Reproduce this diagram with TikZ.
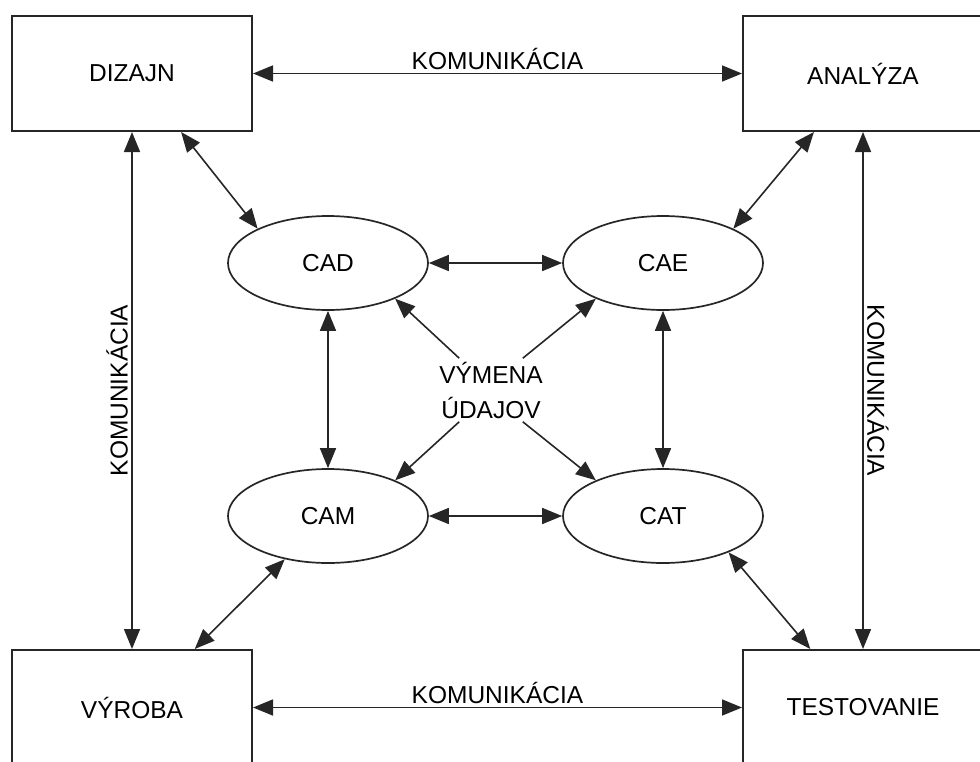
\documentclass[tikz,border=0pt]{standalone}
\usepackage{fontspec}
\setmainfont{Liberation Sans}
\usepackage{tikz}
\usetikzlibrary{shapes.geometric, arrows.meta}
\tikzstyle{arrow} = [line width=1.6pt,draw=black!85,{Triangle[length=20pt,width=16pt]}-{Triangle[length=20pt,width=16pt]}]
\tikzstyle{oneway} = [line width=1.6pt,draw=black!85,-{Triangle[length=20pt,width=16pt]}]
\tikzstyle{block} = [rectangle,draw=black!85,line width=2pt,minimum width=240pt,minimum height=115pt]
\tikzstyle{tool} = [ellipse,draw=black!85,line width=1.7pt,minimum width=200pt,minimum height=94pt,inner sep=0pt]

\begin{document}
\begin{tikzpicture}[x=1pt,y=-1pt,font=\fontsize{24.5}{35}\selectfont]
	\useasboundingbox (0,0) rectangle (980,761);
	\clip (0,0) rectangle (980,761);
	% Corner blocks (the right and bottom ones run past the page edge):
	\node [block] (dizajn)     at (132,73.5)  {DIZAJN};
	\node [block] (analyza)    at (863,73.5)  {ANALÝZA};
	\node [block] (vyroba)     at (132,707.5) {VÝROBA};
	\node [block] (testovanie) at (863,707.5) {TESTOVANIE};
	
	% The four CAx ellipses:
	\node [tool] (cad) at (328,263) {CAD};
	\node [tool] (cae) at (663,263) {CAE};
	\node [tool] (cam) at (328,516) {CAM};
	\node [tool] (cat) at (663,516) {CAT};
	
	% Communication between the blocks:
	\draw [arrow] (dizajn) -- (analyza) node [midway,above] {KOMUNIKÁCIA};
	\draw [arrow] (vyroba) -- (testovanie) node [midway,above] {KOMUNIKÁCIA};
	\draw [arrow] (dizajn) -- (vyroba) node [midway,above,rotate=90] {KOMUNIKÁCIA};
	\draw [arrow] (analyza) -- (testovanie) node [midway,above,rotate=-90] {KOMUNIKÁCIA};
	
	% Blocks to ellipses:
	\draw [arrow] (dizajn.-50) -- (cad.154);
	\draw [arrow] (analyza.-130) -- (cae.26);
	\draw [arrow] (vyroba.43) -- (cam.-135);
	\draw [arrow] (testovanie.132) -- (cat.-29);
	
	% Ellipses to each other:
	\draw [arrow] (cad) -- (cae);
	\draw [arrow] (cam) -- (cat);
	\draw [arrow] (cad) -- (cam);
	\draw [arrow] (cae) -- (cat);
	
	% Data exchange in the middle:
	\node [align=center] (vymena) at (491,390) {VÝMENA\\ÚDAJOV};
	\draw [oneway] (vymena.135) -- (cad.-28);
	\draw [oneway] (vymena.45) -- (cae.-152);
	\draw [oneway] (vymena.-135) -- (cam.28);
	\draw [oneway] (vymena.-45) -- (cat.152);
\end{tikzpicture}
\end{document}
